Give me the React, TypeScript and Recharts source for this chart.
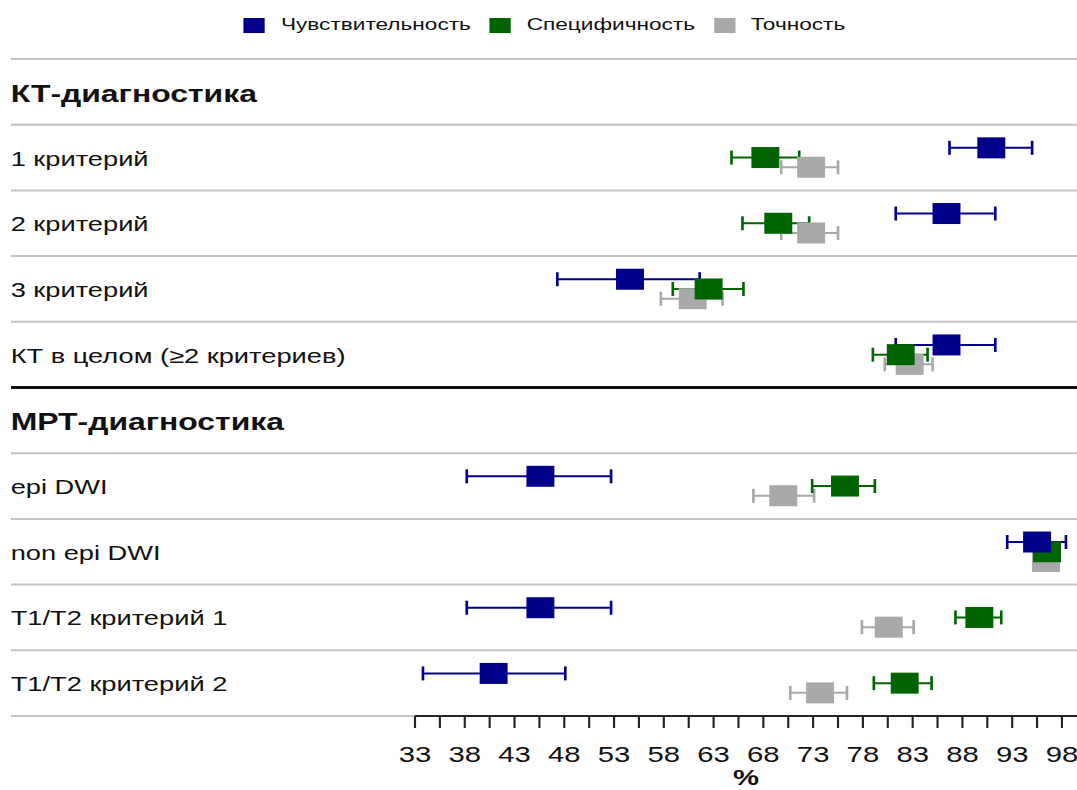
import React from 'react';
import { ScatterChart, Scatter, XAxis, YAxis, ErrorBar, ReferenceLine, Legend } from 'recharts';

// The reference is a horizontally stretched rendering; draw at natural width and stretch.
const SX = 1.33;
const FULL_W = 1077;
const W = FULL_W / SX;
const H = 790;
const FONT = '"Liberation Sans", Arial, Helvetica, sans-serif';

const ROW_LABELS = [
  'КТ-диагностика',
  '1 критерий',
  '2 критерий',
  '3 критерий',
  'КТ в целом (≥2 критериев)',
  'МРТ-диагностика',
  'epi DWI',
  'non epi DWI',
  'T1/T2 критерий 1',
  'T1/T2 критерий 2',
];
const HEADER_ROWS = [0, 5];

const SENS = [null, 90.9, 86.4, 54.6, 86.4, null, 45.6, 95.5, 45.6, 40.9];
const SENS_LO = [null, 86.7, 81.3, 47.3, 81.3, null, 38.2, 92.5, 38.2, 33.8];
const SENS_HI = [null, 95.0, 91.3, 61.6, 91.3, null, 52.7, 98.4, 52.7, 48.1];

const SPEC = [null, 68.2, 69.5, 62.5, 81.8, null, 76.2, 96.5, 89.7, 82.2];
const SPEC_LO = [null, 64.8, 65.9, 58.9, 79.0, null, 72.9, 95.7, 87.3, 79.1];
const SPEC_HI = [null, 71.6, 72.6, 66.0, 84.5, null, 79.2, 97.3, 91.9, 84.9];

const ACC = [null, 72.8, 72.8, 60.9, 82.7, null, 70.0, 96.4, 80.6, 73.7];
const ACC_LO = [null, 69.8, 69.8, 57.7, 80.2, null, 67.0, 95.6, 77.9, 70.7];
const ACC_HI = [null, 75.5, 75.5, 63.9, 85.0, null, 73.1, 97.2, 83.1, 76.4];

const X_TICKS = [33, 35.5, 38, 40.5, 43, 45.5, 48, 50.5, 53, 55.5, 58, 60.5, 63, 65.5, 68, 70.5, 73, 75.5, 78, 80.5, 83, 85.5, 88, 90.5, 93, 95.5, 98];
const X_LABELS = [33, 38, 43, 48, 53, 58, 63, 68, 73, 78, 83, 88, 93, 98];
const X_MIN = -7.59;
const X_MAX = 99.51;
const AXIS_START = 33;

const GRID_ROWS = [0, 1, 2, 3, 4, 6, 7, 8, 9, 10];
const SECTION_ROWS = [5];

const LEGEND = [
  { name: 'Чувствительность', color: '#00008B' },
  { name: 'Специфичность', color: '#006400' },
  { name: 'Точность', color: '#A9A9A9' },
];

// drawn in this order (gray under green under blue)
const SERIES = [
  { name: 'Точность', color: '#A9A9A9', v: ACC, lo: ACC_LO, hi: ACC_HI, off: 0.148 },
  { name: 'Специфичность', color: '#006400', v: SPEC, lo: SPEC_LO, hi: SPEC_HI, off: 0 },
  { name: 'Чувствительность', color: '#00008B', v: SENS, lo: SENS_LO, hi: SENS_HI, off: -0.148 },
];

const buildData = (v: (number | null)[], lo: (number | null)[], hi: (number | null)[], off: number) =>
  v
    .map((val, i) =>
      val == null
        ? null
        : { x: val, y: i + 0.5 + off, err: [val - (lo[i] as number), (hi[i] as number) - val] }
    )
    .filter(Boolean) as { x: number; y: number; err: number[] }[];

const Y_TICKS = ROW_LABELS.map((_, i) => i + 0.5);

const squareShape = (color: string) => (props: any) => {
  const { cx, cy } = props;
  return <rect x={cx - 10.5} y={cy - 10.5} width={21} height={21} fill={color} />;
};

const RowTick = (props: any) => {
  const { y, payload } = props;
  const row = Math.floor(payload.value);
  const header = HEADER_ROWS.includes(row);
  return (
    <text
      x={8}
      y={y + (header ? 10 : 8)}
      fontFamily={FONT}
      fontSize={header ? 24 : 20.5}
      fontWeight={header ? 700 : 400}
      fill="#111"
    >
      {ROW_LABELS[row]}
    </text>
  );
};

const XTick = (props: any) => {
  const { x, y, payload } = props;
  if (!X_LABELS.includes(payload.value)) return <g />;
  return (
    <text x={x} y={y + 32} textAnchor="middle" fontFamily={FONT} fontSize={22} fill="#111">
      {payload.value}
    </text>
  );
};

const LegendContent = () => (
  <div
    style={{
      height: 59,
      boxSizing: 'border-box',
      paddingBottom: 9,
      paddingLeft: 9,
      display: 'flex',
      justifyContent: 'center',
      alignItems: 'center',
      gap: 14,
      fontFamily: FONT,
      fontSize: 17,
      color: '#111',
    }}
  >
    {LEGEND.map((s) => (
      <div key={s.name} style={{ display: 'flex', alignItems: 'center', gap: 12 }}>
        <span style={{ display: 'inline-block', width: 16, height: 15, background: s.color }} />
        <span>{s.name}</span>
      </div>
    ))}
  </div>
);

export default function App() {
  return (
    <div
      style={{
        position: 'absolute',
        left: 0,
        top: 0,
        width: W,
        height: H,
        transform: `scaleX(${SX})`,
        transformOrigin: '0 0',
        background: '#fff',
        fontFamily: FONT,
      }}
    >
      <ScatterChart width={W} height={H} margin={{ top: 0, right: 0, bottom: 0, left: 7.27 }}>
        <Legend
          verticalAlign="top"
          align="center"
          content={<LegendContent />}
          wrapperStyle={{ left: 0, top: 0, width: W, height: 59 }}
        />
        <XAxis
          type="number"
          dataKey="x"
          domain={[X_MIN, X_MAX]}
          ticks={X_TICKS}
          interval={0}
          tick={<XTick />}
          tickSize={12}
          tickLine={{ stroke: '#222', strokeWidth: 1.6 }}
          axisLine={false}
          height={74}
          allowDataOverflow
        />
        <YAxis
          type="number"
          dataKey="y"
          domain={[0, 10]}
          reversed
          ticks={Y_TICKS}
          interval={0}
          tick={<RowTick />}
          tickLine={false}
          axisLine={false}
          width={1}
          allowDataOverflow
        />
        {GRID_ROWS.map((r) => (
          <ReferenceLine key={'g' + r} y={r} stroke="#c4c4c4" strokeWidth={2} />
        ))}
        {SECTION_ROWS.map((r) => (
          <ReferenceLine key={'s' + r} y={r} stroke="#111" strokeWidth={3} />
        ))}
        <ReferenceLine
          segment={[
            { x: AXIS_START, y: 10 },
            { x: X_MAX, y: 10 },
          ]}
          stroke="#222"
          strokeWidth={2}
          label={{
            value: '%',
            position: 'bottom',
            offset: 53,
            fontSize: 22,
            fontWeight: 700,
            fill: '#111',
            fontFamily: FONT,
          }}
        />
        {SERIES.map((s) => (
          <Scatter
            key={s.name}
            name={s.name}
            data={buildData(s.v, s.lo, s.hi, s.off)}
            fill={s.color}
            shape={squareShape(s.color)}
            isAnimationActive={false}
          >
            <ErrorBar dataKey="err" direction="x" width={7} stroke={s.color} strokeWidth={2} />
          </Scatter>
        ))}
      </ScatterChart>
    </div>
  );
}
